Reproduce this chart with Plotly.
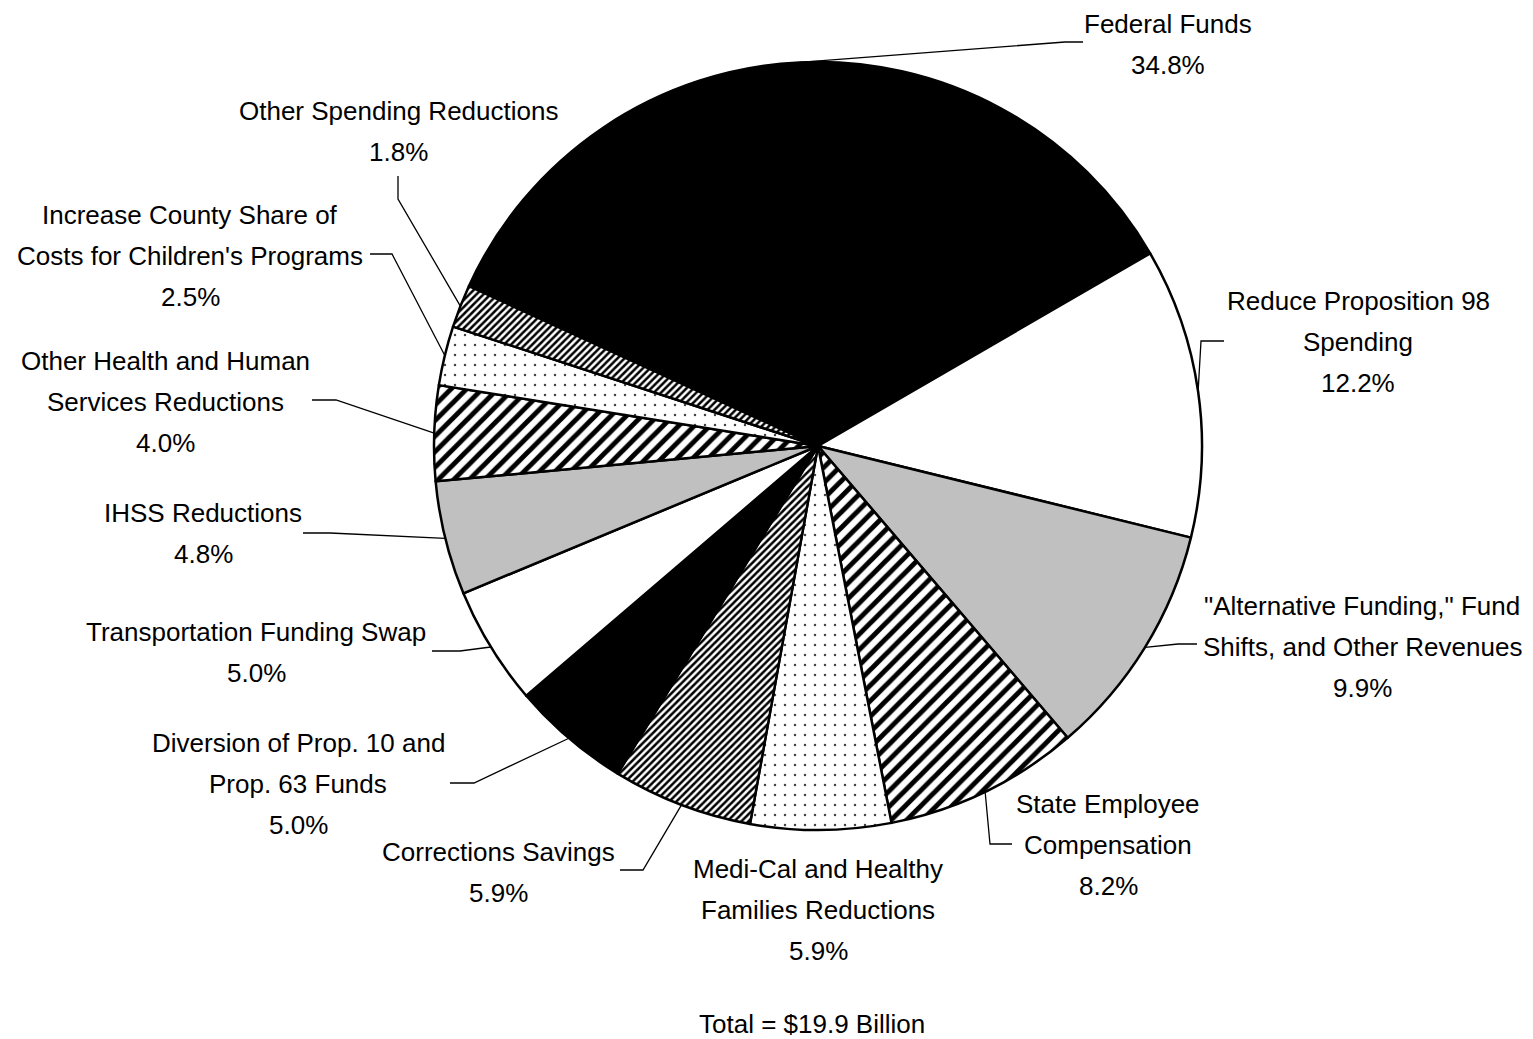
import math
import plotly.graph_objects as go

# ---------------- data ----------------
categories = [
    "Federal Funds",
    "Reduce Proposition 98 Spending",
    "\"Alternative Funding,\" Fund Shifts, and Other Revenues",
    "State Employee Compensation",
    "Medi-Cal and Healthy Families Reductions",
    "Corrections Savings",
    "Diversion of Prop. 10 and Prop. 63 Funds",
    "Transportation Funding Swap",
    "IHSS Reductions",
    "Other Health and Human Services Reductions",
    "Increase County Share of Costs for Children's Programs",
    "Other Spending Reductions",
]
shares = [34.8, 12.2, 9.9, 8.2, 5.9, 5.9, 5.0, 5.0, 4.8, 4.0, 2.5, 1.8]
label_lines = [
    ["Federal Funds"],
    ["Reduce Proposition 98", "Spending"],
    ["\"Alternative Funding,\" Fund", "Shifts, and Other Revenues"],
    ["State Employee", "Compensation"],
    ["Medi-Cal and Healthy", "Families Reductions"],
    ["Corrections Savings"],
    ["Diversion of Prop. 10 and", "Prop. 63 Funds"],
    ["Transportation Funding Swap"],
    ["IHSS Reductions"],
    ["Other Health and Human", "Services Reductions"],
    ["Increase County Share of", "Costs for Children's Programs"],
    ["Other Spending Reductions"],
]
total_text = "Total = $19.9 Billion"

# ---------------- styles ----------------
fills = ["black", "white", "#c0c0c0", "hatch", "dots", "fine", "black", "white",
         "#c0c0c0", "hatch", "dots", "fine"]

W, H = 1533, 1039
CX, CY, R = 818, 446, 384
START = -65.4
FONT = "Liberation Sans, Arial, sans-serif"
FS = 26
LINE_H = 41

def px(x, y):
    return x / W, 1 - y / H

shape_list, fg, bg, sz, sol, colors = [], [], [], [], [], []
for f in fills:
    if f == "hatch":
        shape_list.append("/"); fg.append("black"); bg.append("white"); sz.append(11); sol.append(0.45); colors.append("white")
    elif f == "fine":
        shape_list.append("/"); fg.append("black"); bg.append("white"); sz.append(5); sol.append(0.5); colors.append("white")
    elif f == "dots":
        shape_list.append("."); fg.append("#444444"); bg.append("white"); sz.append(10); sol.append(0.05); colors.append("white")
    else:
        shape_list.append(""); fg.append(f); bg.append(f); sz.append(8); sol.append(0.3); colors.append(f)

x0, yT = px(CX - R, CY - R)
x1, yB = px(CX + R, CY + R)

fig = go.Figure(go.Pie(
    labels=categories,
    values=shares,
    sort=False,
    direction="clockwise",
    rotation=START,
    textinfo="none",
    hoverinfo="label+percent",
    marker=dict(
        colors=colors,
        line=dict(color="black", width=2.5),
        pattern=dict(shape=shape_list, fgcolor=fg, bgcolor=bg, size=sz, solidity=sol, fillmode="replace"),
    ),
    domain=dict(x=[x0, x1], y=[yB, yT]),
    showlegend=False,
))

# label layout: (text center x, text block center y, elbow, end)  in pixels
label_pos = [
    (1168, 44.5, (1065, 42), (1083, 42)),
    (1358, 342, (1201, 341), (1224, 341)),
    (1362, 647, (1178, 644), (1197, 644)),
    (1108, 845, (990, 844), (1012, 844)),
    (818, 910, None, None),
    (498, 872.5, (643, 870), (620, 870)),
    (298, 784, (474, 783), (450, 783)),
    (256, 652.5, (460, 651), (432, 651)),
    (203, 533.5, (330, 533), (303, 533)),
    (165, 402, (336, 400), (312, 400)),
    (190, 256, (392, 254), (370, 254)),
    (398, 131.5, (398, 199), (398, 176)),
]

total = sum(shares)
annotations, shapes = [], []
cum = 0.0
for i, (lines, v) in enumerate(zip(label_lines, shares)):
    mid = START + 360 * (cum + v / 2) / total
    cum += v
    all_lines = lines + [f"{v:.1f}%"]
    cx_t, cy_t, elbow, end = label_pos[i]
    n = len(all_lines)
    for k, t in enumerate(all_lines):
        yy = cy_t + (k - (n - 1) / 2) * LINE_H
        xp, yp = px(cx_t, yy)
        annotations.append(dict(x=xp, y=yp, xref="paper", yref="paper", text=t, showarrow=False,
                                xanchor="center", yanchor="middle",
                                font=dict(family=FONT, size=FS, color="black")))
    if elbow is not None:
        th = math.radians(mid)
        ex, ey = CX + R * math.sin(th), CY - R * math.cos(th)
        p = [px(ex, ey), px(*elbow), px(*end)]
        path = "M {} {} L {} {} L {} {}".format(p[0][0], p[0][1], p[1][0], p[1][1], p[2][0], p[2][1])
        shapes.append(dict(type="path", xref="paper", yref="paper", path=path,
                           line=dict(color="black", width=1.3)))

tx, ty = px(812, 1024)
annotations.append(dict(x=tx, y=ty, xref="paper", yref="paper", text=total_text, showarrow=False,
                        xanchor="center", yanchor="middle",
                        font=dict(family=FONT, size=FS, color="black")))

fig.update_layout(
    width=W, height=H,
    margin=dict(l=0, r=0, t=0, b=0),
    paper_bgcolor="white", plot_bgcolor="white",
    annotations=annotations, shapes=shapes,
)

fig.write_html("out.html", config={"displayModeBar": False},
               post_script="document.body.style.margin='0';document.body.style.overflow='hidden';")
